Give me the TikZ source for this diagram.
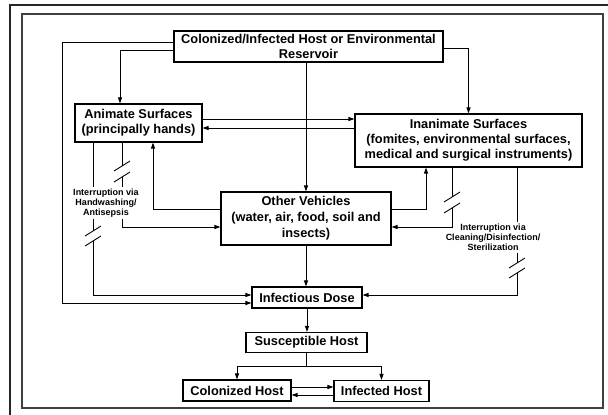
\documentclass[tikz,border=0pt]{standalone}
\usepackage{fontspec}
\setmainfont{Liberation Sans}
\usetikzlibrary{arrows.meta}

\begin{document}
\begin{tikzpicture}[x=1pt, y=-1pt, box/.style={rectangle, draw, line width=1.1pt, inner sep=0pt, align=center, font=\fontsize{12.8}{15}\selectfont\bfseries}, note/.style={inner sep=1.5pt, align=center, font=\fontsize{9}{10}\selectfont\bfseries}, arr/.style={-{Triangle[length=6pt, width=4pt]}, line width=0.9pt}, link/.style={line width=0.9pt}]
  \useasboundingbox (0,0) rectangle (608,415);
  \draw[line width=2.6pt, black!85] (608,5) -- (10,5) -- (10,415);
  \draw[line width=1.8pt, black!75] (22,14) rectangle (603,408);

  \node[box, minimum width=269pt, minimum height=31pt] (reservoir) at (308.5,46.5) {Colonized/Infected Host or Environmental\\Reservoir};
  \node[box, minimum width=127pt, minimum height=38pt] (animate) at (138.5,123) {Animate Surfaces\\(principally hands)};
  \node[box, minimum width=227pt, minimum height=53pt] (inanimate) at (468.5,140.5) {Inanimate Surfaces\\(fomites, environmental surfaces,\\medical and surgical instruments)};
  \node[box, minimum width=170pt, minimum height=53pt, font=\fontsize{12.8}{16}\selectfont\bfseries] (vehicles) at (306,218.5) {Other Vehicles\\(water, air, food, soil and\\insects)};
  \node[box, minimum width=110pt, minimum height=21pt] (dose) at (307,297.5) {Infectious Dose};
  \node[box, minimum width=121pt, minimum height=20pt] (suscept) at (306.5,342.5) {Susceptible Host};
  \node[box, minimum width=108pt, minimum height=21pt] (colonized) at (237,390.5) {Colonized Host};
  \node[box, minimum width=95pt, minimum height=21pt] (infected) at (381.5,391) {Infected Host};

  \node[note] (handwash) at (106,203) {Interruption via\\Handwashing/\\Antisepsis};
  \node[note] (cleaning) at (493,237.5) {Interruption via\\Cleaning/Disinfection/\\Sterilization};

  \draw[arr] (reservoir.west |- 0,42) -| (62,303) -- (dose.west |- 0,303);
  \draw[arr] (reservoir.west |- 0,50) -| (animate.north -| 120,0);
  \draw[arr] (reservoir.east |- 0,48) -| (inanimate.north);
  \draw[arr] (animate.east |- 0,119) -- (inanimate.west |- 0,119);
  \draw[arr] (inanimate.west |- 0,128) -- (animate.east |- 0,128);
  \draw[arr] (reservoir.south -| vehicles.north) -- (vehicles.north);
  \draw[arr] (vehicles.south) -- (vehicles.south |- dose.north);
  \draw[arr] (dose.south) -- (dose.south |- suscept.north);
  \coordinate (split) at (306.5,366);
  \draw[link] (suscept.south) -- (split);
  \draw[arr] (split) -| (colonized.north);
  \draw[arr] (split) -| (infected.north);
  \draw[arr] (colonized.east |- 0,387) -- (infected.west |- 0,387);
  \draw[arr] (infected.west |- 0,395) -- (colonized.east |- 0,395);
  \draw[arr] (vehicles.west |- 0,209) -| (animate.south -| 153,0);
  \draw[arr] (vehicles.east |- 0,209) -| (inanimate.south -| 426,0);

  \draw[link] (animate.south -| 122,0) -- (122,166);
  \draw[link] (122,177) -- (handwash.north -| 122,0);
  \draw[arr] (handwash.south -| 122,0) |- (vehicles.west |- 0,227);
  \draw[link] (animate.south -| 93,0) -- (handwash.north -| 93,0);
  \draw[link] (handwash.south -| 93,0) -- (93,231);
  \draw[arr] (93,241) |- (dose.west |- 0,295);
  \draw[link] (inanimate.south -| 452,0) -- (452,197);
  \draw[arr] (452,208) |- (vehicles.east |- 0,227);
  \draw[link] (inanimate.south -| 517,0) -- (cleaning.north -| 517,0);
  \draw[link] (cleaning.south -| 517,0) -- (517,263);
  \draw[arr] (517,273) |- (dose.east |- 0,295);
  \foreach \x/\y in {122/166, 122/177, 93/231, 93/241, 452/197, 452/208, 517/263, 517/273}
    \draw[link] (\x-8,\y+5) -- (\x+8,\y-5);
\end{tikzpicture}
\end{document}
